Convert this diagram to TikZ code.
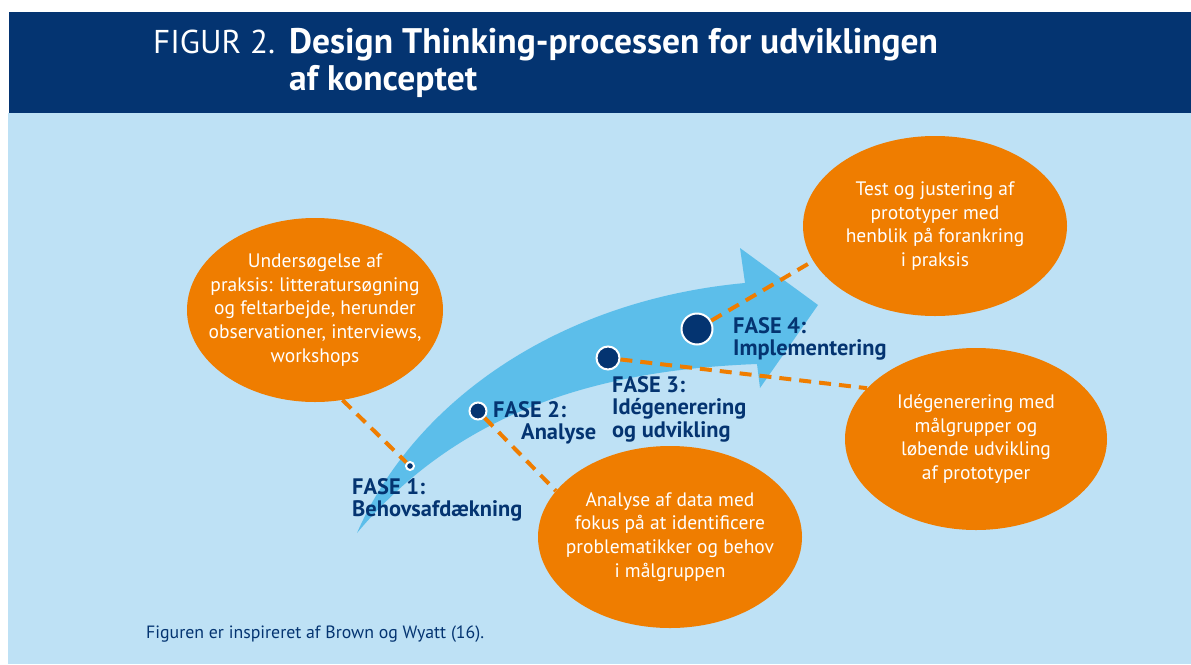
\documentclass[tikz,border=0pt]{standalone}
\usepackage{fontspec}
\setmainfont{PT Sans}
\usepackage{tikz}
\usetikzlibrary{shapes.geometric}
\definecolor{navy}{RGB}{4,52,113}
\definecolor{skyback}{RGB}{190,225,245}
\definecolor{arrowblue}{RGB}{92,190,234}
\definecolor{bubbleorange}{RGB}{239,125,0}
\tikzset{
	bubble/.style={ellipse, fill=bubbleorange, inner sep=0pt},
	bubbletext/.style={text=white, align=center, inner sep=0pt, font=\fontsize{19.5}{23.8}\selectfont},
	fasedot/.style={circle, fill=navy, draw=white, line width=2pt, inner sep=0pt},
	fasetext/.style={text=navy, align=left, anchor=north west, inner sep=0pt, font=\bfseries\fontsize{22.4}{22.6}\selectfont},
	link/.style={draw=bubbleorange, line width=4pt, dash pattern=on 12pt off 8pt}
}

\begin{document}
\begin{tikzpicture}[x=1pt, y=-1pt]
		%%%%% START %%%%%
		
		\useasboundingbox (0, 0) rectangle (1191, 664);
		\fill[skyback] (8, 113) rectangle (1191, 664);
		\fill[navy] (9, 12) rectangle (1191, 113);
		
		\node[anchor=base west, inner sep=0pt, text=white, font=\fontsize{33}{36}\selectfont] (figno) at (153, 53.5) {FIGUR 2.};
		\node[anchor=north west, inner sep=0pt, text=white, align=left, font=\bfseries\fontsize{35.5}{36.5}\selectfont] (title) at (289, 28.5) {Design Thinking-processen for udviklingen\\af konceptet};
		
		% the big arrow
		\fill[arrowblue] (357, 533) .. controls (415, 400) and (560, 300) .. (745, 283) -- (740, 248) -- (818, 305) -- (760, 388) -- (757, 364) .. controls (600, 370) and (460, 410) .. (357, 533) -- cycle;
		
		\node[bubble, minimum width=256pt, minimum height=184pt, label={[bubbletext]center:{Undersøgelse af\\praksis: litteratursøgning\\og feltarbejde, herunder\\observationer, interviews,\\workshops}}] (praksis) at (315, 310) {};
		\node[bubble, minimum width=264pt, minimum height=182pt, label={[bubbletext]center:{Analyse af data med\\fokus på at identificere\\problematikker og behov\\i målgruppen}}] (analyse) at (670, 537) {};
		\node[bubble, minimum width=264pt, minimum height=180pt, label={[bubbletext]center:{Test og justering af\\prototyper med\\henblik på forankring\\i praksis}}] (test) at (935, 226) {};
		\node[bubble, minimum width=262pt, minimum height=182pt, label={[bubbletext]center:{Idégenerering med\\målgrupper og\\løbende udvikling\\af prototyper}}] (idegen) at (976, 439) {};
		
		\node[fasedot, minimum size=8pt] (d1) at (410, 466) {};
		\node[fasedot, minimum size=17pt] (d2) at (478, 411) {};
		\node[fasedot, minimum size=23pt] (d3) at (608, 358) {};
		\node[fasedot, minimum size=31pt] (d4) at (697, 329) {};
		
		\draw[link] (praksis.-73) -- (d1);
		\draw[link] (d2) -- (analyse.158);
		\draw[link] (d3) -- (idegen.155);
		\draw[link] (d4) -- (test.-164);
		
		\node[fasetext] (fase1) at (352, 478) {FASE 1:\\Behovsafdækning};
		\node[fasetext] (fase2) at (493, 401) {FASE 2:\\\hspace*{28pt}Analyse};
		\node[fasetext] (fase3) at (612, 376) {FASE 3:\\Idégenerering\\og udvikling};
		\node[fasetext] (fase4) at (733, 317) {FASE 4:\\Implementering};
		
		\node[anchor=base west, inner sep=0pt, text=navy, font=\fontsize{17.8}{20}\selectfont] (source) at (146, 638) {Figuren er inspireret af Brown og Wyatt (16).};
		
		%%%%% END %%%%%
\end{tikzpicture}
\end{document}
